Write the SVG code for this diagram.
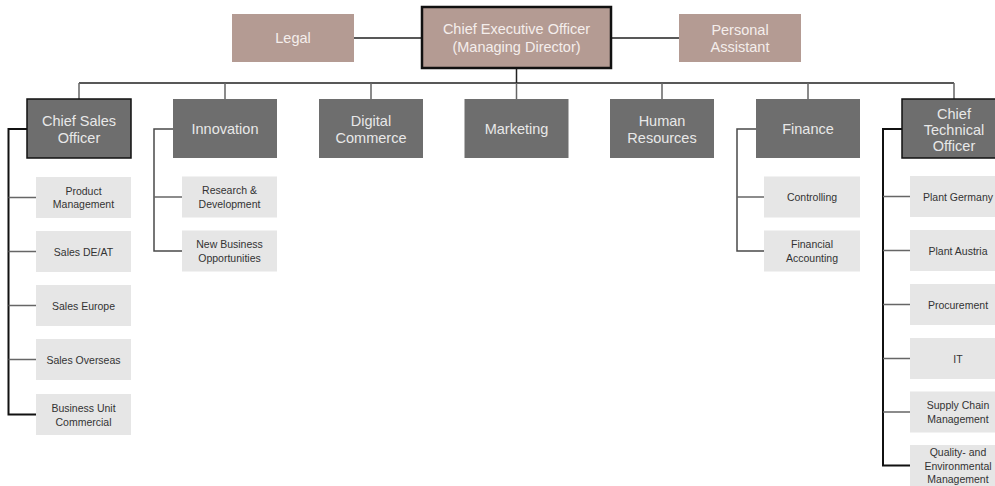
<svg xmlns="http://www.w3.org/2000/svg" width="995" height="486" viewBox="0 0 995 486">
<style>
text{font-family:"Liberation Sans",Arial,sans-serif;text-anchor:middle;dominant-baseline:central}
.top{fill:#b49b93}
.topt{fill:#f4eeec;font-size:14.5px}
.dept{fill:#6e6e6e}
.deptt{fill:#e8e8e8;font-size:14.5px}
.sub{fill:#e6e6e6}
.subt{fill:#333;font-size:10.5px}
.ln{stroke:#222;stroke-width:1.5;fill:none}
.lb{stroke:#111;stroke-width:2;fill:none}
.lg{stroke:#4a4a4a;stroke-width:1.5;fill:none}
.ls{stroke:#666;stroke-width:1.5;fill:none}
</style>
<g id="connectors">
<path class="ln" d="M354 38H422M611 38H679"/>
<path class="ln" d="M516.5 68V83M79 83H954"/>
<path class="ls" d="M79 83V99M225 83V99M371 83V99M516.5 83V99M662 83V99M808 83V99M954 83V99"/>
<path class="lb" d="M27 129H8.5V414.5H36"/>
<path class="ls" d="M8.5 197.5H36M8.5 251.5H36M8.5 305.5H36M8.5 359.5H36"/>
<path class="lg" d="M173 129H154V251H182"/>
<path class="ls" d="M154 197H182"/>
<path class="lg" d="M756 129H737V251H764"/>
<path class="ls" d="M737 197H764"/>
<path class="lb" d="M902 129H883V465.5H910"/>
<path class="ls" d="M883 196.5H910M883 250.5H910M883 304.5H910M883 358.5H910M883 412H910"/>
</g>
<g id="ceo"><rect class="top" x="422" y="7" width="189" height="61" stroke="#111" stroke-width="2.5"/><text class="topt" x="516.5" y="29">Chief Executive Officer</text><text class="topt" x="516.5" y="47">(Managing Director)</text></g>
<g id="legal"><rect class="top" x="232" y="14" width="122" height="48"/><text class="topt" x="293" y="38">Legal</text></g>
<g id="pa"><rect class="top" x="679" y="14" width="122" height="48"/><text class="topt" x="740" y="29.5">Personal</text><text class="topt" x="740" y="47">Assistant</text></g>
<g id="cso"><rect class="dept" x="27" y="99" width="104" height="59" stroke="#111" stroke-width="1.5"/><text class="deptt" x="79" y="121">Chief Sales</text><text class="deptt" x="79" y="138">Officer</text></g>
<g id="innovation"><rect class="dept" x="173" y="99" width="104" height="59"/><text class="deptt" x="225" y="129">Innovation</text></g>
<g id="digital"><rect class="dept" x="319" y="99" width="104" height="59"/><text class="deptt" x="371" y="121">Digital</text><text class="deptt" x="371" y="138">Commerce</text></g>
<g id="marketing"><rect class="dept" x="464.5" y="99" width="104" height="59"/><text class="deptt" x="516.5" y="129">Marketing</text></g>
<g id="hr"><rect class="dept" x="610" y="99" width="104" height="59"/><text class="deptt" x="662" y="121">Human</text><text class="deptt" x="662" y="138">Resources</text></g>
<g id="finance"><rect class="dept" x="756" y="99" width="104" height="59"/><text class="deptt" x="808" y="129">Finance</text></g>
<g id="cto"><rect class="dept" x="902" y="99" width="104" height="59" stroke="#111" stroke-width="1.5"/><text class="deptt" x="954" y="113.5">Chief</text><text class="deptt" x="954" y="130">Technical</text><text class="deptt" x="954" y="146">Officer</text></g>
<g id="pm"><rect class="sub" x="36" y="177" width="95" height="41"/><text class="subt" x="83.5" y="190.5">Product</text><text class="subt" x="83.5" y="204">Management</text></g>
<g id="sdeat"><rect class="sub" x="36" y="231" width="95" height="41"/><text class="subt" x="83.5" y="251.5">Sales DE/AT</text></g>
<g id="seu"><rect class="sub" x="36" y="285" width="95" height="41"/><text class="subt" x="83.5" y="305.5">Sales Europe</text></g>
<g id="sov"><rect class="sub" x="36" y="339" width="95" height="41"/><text class="subt" x="83.5" y="359.5">Sales Overseas</text></g>
<g id="buc"><rect class="sub" x="36" y="394" width="95" height="41"/><text class="subt" x="83.5" y="408">Business Unit</text><text class="subt" x="83.5" y="421.5">Commercial</text></g>
<g id="rd"><rect class="sub" x="182" y="176.5" width="95" height="41"/><text class="subt" x="229.5" y="190">Research &amp;</text><text class="subt" x="229.5" y="203.5">Development</text></g>
<g id="nbo"><rect class="sub" x="182" y="230.5" width="95" height="41"/><text class="subt" x="229.5" y="244">New Business</text><text class="subt" x="229.5" y="257.5">Opportunities</text></g>
<g id="controlling"><rect class="sub" x="764" y="176.5" width="96" height="41"/><text class="subt" x="812" y="197">Controlling</text></g>
<g id="facc"><rect class="sub" x="764" y="230.5" width="96" height="41"/><text class="subt" x="812" y="244">Financial</text><text class="subt" x="812" y="257.5">Accounting</text></g>
<g id="pde"><rect class="sub" x="910" y="176" width="96" height="41"/><text class="subt" x="958" y="196.5">Plant Germany</text></g>
<g id="pat"><rect class="sub" x="910" y="230" width="96" height="41"/><text class="subt" x="958" y="250.5">Plant Austria</text></g>
<g id="proc"><rect class="sub" x="910" y="284" width="96" height="41"/><text class="subt" x="958" y="304.5">Procurement</text></g>
<g id="it"><rect class="sub" x="910" y="338" width="96" height="41"/><text class="subt" x="958" y="358.5">IT</text></g>
<g id="scm"><rect class="sub" x="910" y="391.5" width="96" height="41"/><text class="subt" x="958" y="405">Supply Chain</text><text class="subt" x="958" y="418.5">Management</text></g>
<g id="qem"><rect class="sub" x="910" y="445" width="96" height="41"/><text class="subt" x="958" y="452">Quality- and</text><text class="subt" x="958" y="465.5">Environmental</text><text class="subt" x="958" y="479">Management</text></g>
</svg>
